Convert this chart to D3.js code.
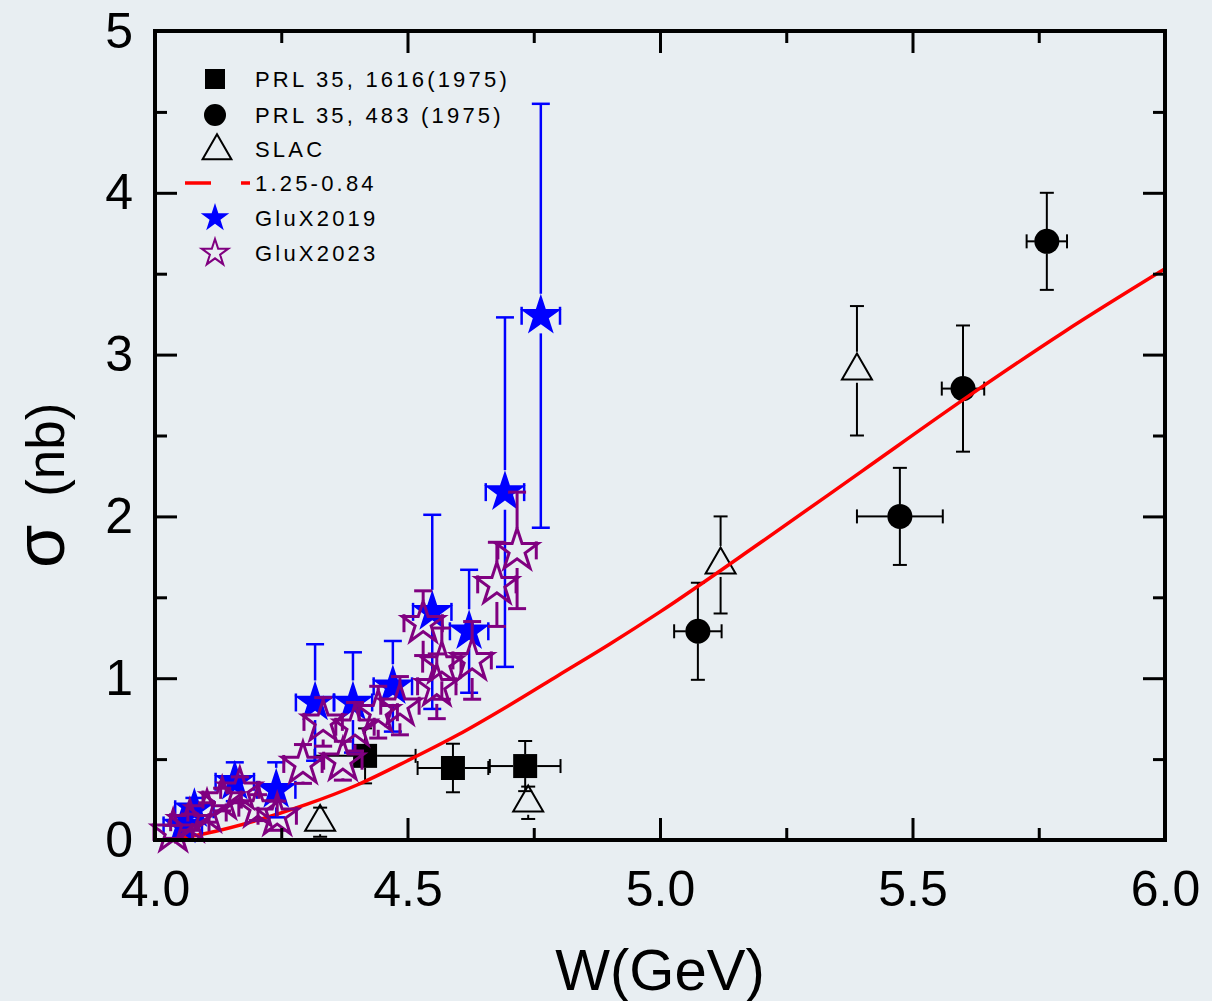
<!DOCTYPE html>
<html>
<head>
<meta charset="utf-8">
<script src="https://cdn.jsdelivr.net/npm/d3@7"></script>
<style>
  html, body { margin: 0; padding: 0; background: #e8eef2; }
  svg { display: block; }
  text { font-family: "Liberation Sans", Arial, sans-serif; }
</style>
</head>
<body>
<svg id="chart" width="1212" height="1001"></svg>
<script>
// ---- data ----
// PRL 35, 1616 (1975)
const prl1616W    = [4.416, 4.590, 4.733];
const prl1616Sig  = [0.52, 0.445, 0.457];
const prl1616SErr = [0.17, 0.15, 0.155];
const prl1616WErr = [0.10, 0.07, 0.07];

// PRL 35, 483 (1975)
const prl483W    = [5.075, 5.475, 5.600, 5.766];
const prl483Sig  = [1.29, 2.00, 2.79, 3.70];
const prl483SErr = [0.30, 0.30, 0.39, 0.30];
const prl483WErr = [0.047, 0.085, 0.042, 0.040];

// SLAC
const slacW    = [4.327, 4.739, 5.120, 5.390];
const slacSig  = [0.11, 0.23, 1.70, 2.90];
const slacSErr = [0.09, 0.10, 0.30, 0.40];

// model curve 1.25-0.84
const curveW   = [4.035, 4.1, 4.2, 4.3, 4.4, 4.5, 4.6, 4.7, 4.8, 4.9, 5.0, 5.2, 5.4, 5.6, 5.8, 6.0];
const curveSig = [0.0, 0.04, 0.12, 0.22, 0.34, 0.49, 0.65, 0.83, 1.02, 1.21, 1.41, 1.84, 2.28, 2.72, 3.14, 3.53];

// GluX2019
const glux19W    = [4.055, 4.078, 4.158, 4.240, 4.317, 4.392, 4.471, 4.549, 4.622, 4.693, 4.764];
const glux19Sig  = [0.09, 0.19, 0.36, 0.31, 0.85, 0.85, 0.95, 1.41, 1.29, 2.15, 3.24];
const glux19SErr = [0.05, 0.07, 0.12, 0.17, 0.36, 0.31, 0.28, 0.60, 0.38, 1.08, 1.31];
const glux19WErr = 0.038;

// GluX2023
const glux23W    = [4.036, 4.069, 4.103, 4.133, 4.168, 4.204, 4.242, 4.293, 4.333, 4.372,
                    4.396, 4.442, 4.485, 4.531, 4.558, 4.568, 4.628, 4.677, 4.717];
const glux23Sig  = [0.05, 0.11, 0.17, 0.25, 0.31, 0.20, 0.15, 0.47, 0.73, 0.49,
                    0.70, 0.79, 0.83, 1.34, 0.95, 1.09, 1.11, 1.58, 1.79];
const glux23SErr = [0.04, 0.05, 0.06, 0.07, 0.08, 0.08, 0.09, 0.12, 0.15, 0.12,
                    0.15, 0.16, 0.18, 0.20, 0.20, 0.22, 0.24, 0.26, 0.36];
const glux23WErr = 0.038;

// axis ticks
const xMajor = [4.0, 4.5, 5.0, 5.5, 6.0];
const xMinor = [4.25, 4.75, 5.25, 5.75];
const yMajor = [0, 1, 2, 3, 4, 5];
const yMinor = [0.5, 1.5, 2.5, 3.5, 4.5];

const legendLabels = ["PRL 35, 1616(1975)", "PRL 35, 483 (1975)", "SLAC", "1.25-0.84", "GluX2019", "GluX2023"];

// ---- layout ----
const BG = "#e8eef2";
const pL = 155, pR = 1165, pT = 31, pB = 840;
const x = d3.scaleLinear().domain([4, 6]).range([pL, pR]);
const y = d3.scaleLinear().domain([0, 5]).range([pB, pT]);
const KA = 0.8908130915292852; // d3.symbolStar: outer radius = sqrt(size * KA)
const starSize = r => r * r / KA;

const svg = d3.select("#chart");
svg.append("rect").attr("width", 1212).attr("height", 1001).attr("fill", BG);

function rows(ws, ss, se, we) {
  return ws.map((w, i) => ({
    w, s: ss[i], se: se[i],
    we: we == null ? 0 : (Array.isArray(we) ? we[i] : we)
  }));
}

// error bars drawn outside the marker body
function errorBars(g, data, o) {
  const segs = [];
  data.forEach(d => {
    const cx = x(d.w), cy = y(d.s);
    const yt = y(d.s + d.se), yb = y(d.s - d.se);
    if (cy - o.gapUp > yt) segs.push([cx, yt, cx, cy - o.gapUp]);
    if (cy + o.gapDown < yb) segs.push([cx, cy + o.gapDown, cx, yb]);
    segs.push([cx - o.cap, yt, cx + o.cap, yt]);
    segs.push([cx - o.cap, yb, cx + o.cap, yb]);
    if (d.we > 0) {
      const xl = x(d.w - d.we), xr = x(d.w + d.we);
      if (cx - o.gapX > xl) segs.push([xl, cy, cx - o.gapX, cy]);
      if (cx + o.gapX < xr) segs.push([cx + o.gapX, cy, xr, cy]);
      segs.push([xl, cy - o.cap, xl, cy + o.cap]);
      segs.push([xr, cy - o.cap, xr, cy + o.cap]);
    }
  });
  g.selectAll(null).data(segs).join("line")
    .attr("x1", s => s[0]).attr("y1", s => s[1])
    .attr("x2", s => s[2]).attr("y2", s => s[3])
    .attr("stroke", o.color).attr("stroke-width", o.width)
    .attr("stroke-linecap", "butt");
}

function markers(g, data, sym, size, fill, stroke, sw) {
  g.selectAll(null).data(data).join("path")
    .attr("transform", d => `translate(${x(d.w)},${y(d.s)})`)
    .attr("d", d3.symbol().type(sym).size(size))
    .attr("fill", fill).attr("stroke", stroke).attr("stroke-width", sw)
    .attr("stroke-linejoin", "miter");
}

const plot = svg.append("g");

// PRL 35, 1616 squares
const sq = rows(prl1616W, prl1616Sig, prl1616SErr, prl1616WErr);
const gSq = plot.append("g");
errorBars(gSq, sq, { gapUp: 12, gapDown: 12, gapX: 12, cap: 7, color: "#000", width: 2 });
markers(gSq, sq, d3.symbolSquare, 24 * 24, "#000", "none", 0);

// PRL 35, 483 circles
const ci = rows(prl483W, prl483Sig, prl483SErr, prl483WErr);
const gCi = plot.append("g");
errorBars(gCi, ci, { gapUp: 12, gapDown: 12, gapX: 12, cap: 7, color: "#000", width: 2 });
markers(gCi, ci, d3.symbolCircle, Math.PI * 12.5 * 12.5, "#000", "none", 0);

// SLAC open triangles
const tr = rows(slacW, slacSig, slacSErr, null);
const gTr = plot.append("g");
errorBars(gTr, tr, { gapUp: 19, gapDown: 12, gapX: 0, cap: 7, color: "#000", width: 2 });
markers(gTr, tr, d3.symbolTriangle, 390, "none", "#000", 2);

// model curve
const curve = curveW.map((w, i) => ({ w, s: curveSig[i] }));
plot.append("path")
  .datum(curve)
  .attr("d", d3.line().x(d => x(d.w)).y(d => y(d.s)).curve(d3.curveMonotoneX))
  .attr("fill", "none").attr("stroke", "#ff0000").attr("stroke-width", 3.5);

// GluX2019 filled stars
const R = 22;
const b19 = rows(glux19W, glux19Sig, glux19SErr, glux19WErr);
const gB = plot.append("g");
errorBars(gB, b19, { gapUp: R, gapDown: R * 0.8, gapX: R * 0.95, cap: 9, color: "#0000ff", width: 2.5 });
markers(gB, b19, d3.symbolStar, starSize(R), "#0000ff", "none", 0);

// GluX2023 open stars
const p23 = rows(glux23W, glux23Sig, glux23SErr, glux23WErr);
const gP = plot.append("g");
errorBars(gP, p23, { gapUp: R, gapDown: R * 0.8, gapX: R * 0.95, cap: 9, color: "#800080", width: 3 });
markers(gP, p23, d3.symbolStar, starSize(R), "none", "#800080", 3);

// ---- axes (ticks point inward on all four sides) ----
const fmt1 = d3.format(".1f");
function styleAxis(g) {
  g.select(".domain").remove();
  g.selectAll(".tick line").attr("stroke", "#000").attr("stroke-width", 3);
  g.selectAll(".tick text").attr("fill", "#000")
    .style("font-family", '"Liberation Sans", Arial, sans-serif');
}
svg.append("g").attr("transform", `translate(0,${pB})`)
  .call(d3.axisBottom(x).tickValues(xMajor).tickSize(-22).tickPadding(30).tickFormat(fmt1))
  .call(styleAxis).selectAll("text").style("font-size", "50px");
svg.append("g").attr("transform", `translate(0,${pB})`)
  .call(d3.axisBottom(x).tickValues(xMinor).tickSize(-12).tickFormat(""))
  .call(styleAxis);
svg.append("g").attr("transform", `translate(0,${pT})`)
  .call(d3.axisTop(x).tickValues(xMajor).tickSize(-22).tickFormat(""))
  .call(styleAxis);
svg.append("g").attr("transform", `translate(0,${pT})`)
  .call(d3.axisTop(x).tickValues(xMinor).tickSize(-12).tickFormat(""))
  .call(styleAxis);
svg.append("g").attr("transform", `translate(${pL},0)`)
  .call(d3.axisLeft(y).tickValues(yMajor).tickSize(-22).tickPadding(22).tickFormat(d3.format("d")))
  .call(styleAxis).selectAll("text").style("font-size", "50px");
svg.append("g").attr("transform", `translate(${pL},0)`)
  .call(d3.axisLeft(y).tickValues(yMinor).tickSize(-12).tickFormat(""))
  .call(styleAxis);
svg.append("g").attr("transform", `translate(${pR},0)`)
  .call(d3.axisRight(y).tickValues(yMajor).tickSize(-22).tickFormat(""))
  .call(styleAxis);
svg.append("g").attr("transform", `translate(${pR},0)`)
  .call(d3.axisRight(y).tickValues(yMinor).tickSize(-12).tickFormat(""))
  .call(styleAxis);

// frame
svg.append("rect")
  .attr("x", pL).attr("y", pT)
  .attr("width", pR - pL).attr("height", pB - pT)
  .attr("fill", "none").attr("stroke", "#000").attr("stroke-width", 4);

// axis titles
svg.append("text")
  .attr("x", (pL + pR) / 2).attr("y", 990)
  .attr("text-anchor", "middle")
  .style("font-size", "58px").attr("fill", "#000")
  .text("W(GeV)");

const yTitle = svg.append("text")
  .attr("transform", "translate(64,568) rotate(-90)")
  .attr("fill", "#000");
yTitle.append("tspan").style("font-size", "70px").text("σ");
yTitle.append("tspan").attr("dx", 28).style("font-size", "53px").text("(nb)");

// ---- legend ----
const leg = svg.append("g");
const legY = [79, 115, 149, 183, 218, 253];
const lx = 215;
leg.append("path").attr("transform", `translate(${lx},${legY[0]})`)
  .attr("d", d3.symbol().type(d3.symbolSquare).size(20 * 20)).attr("fill", "#000");
leg.append("path").attr("transform", `translate(${lx},${legY[1]})`)
  .attr("d", d3.symbol().type(d3.symbolCircle).size(Math.PI * 11 * 11)).attr("fill", "#000");
leg.append("path").attr("transform", `translate(${lx + 2},${legY[2] + 2})`)
  .attr("d", d3.symbol().type(d3.symbolTriangle).size(360)).attr("fill", "none")
  .attr("stroke", "#000").attr("stroke-width", 2);
leg.append("line").attr("x1", 185).attr("x2", 250).attr("y1", legY[3]).attr("y2", legY[3])
  .attr("stroke", "#ff0000").attr("stroke-width", 3.5).attr("stroke-dasharray", "26,30");
leg.append("path").attr("transform", `translate(${lx},${legY[4]})`)
  .attr("d", d3.symbol().type(d3.symbolStar).size(starSize(15))).attr("fill", "#0000ff");
leg.append("path").attr("transform", `translate(${lx},${legY[5]})`)
  .attr("d", d3.symbol().type(d3.symbolStar).size(starSize(14))).attr("fill", "none")
  .attr("stroke", "#800080").attr("stroke-width", 2);
leg.selectAll("text.lab").data(legendLabels).join("text")
  .attr("class", "lab")
  .attr("x", 255).attr("y", (d, i) => legY[i] + 8)
  .style("font-size", "22px").style("letter-spacing", "3.2px")
  .attr("fill", "#000")
  .text(d => d);
</script>
</body>
</html>
